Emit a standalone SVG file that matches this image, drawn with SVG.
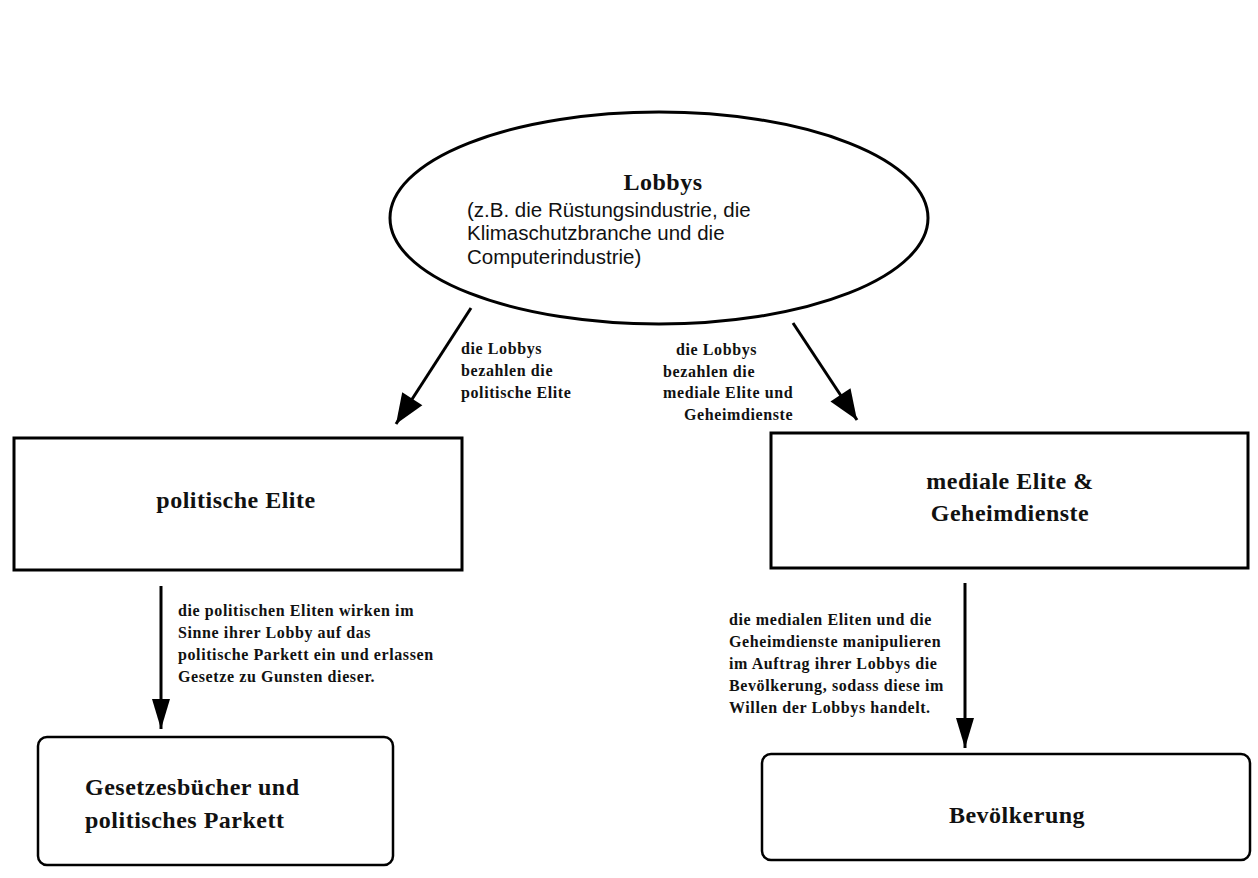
<svg xmlns="http://www.w3.org/2000/svg" width="1258" height="878" viewBox="0 0 1258 878">
<style>
.t{font-family:"Liberation Serif","Times New Roman",serif;font-weight:bold;fill:#111}
.big{font-size:24px;letter-spacing:0.5px}
.sm{font-size:16px;letter-spacing:0.6px}
.sans{font-family:"Liberation Sans",Arial,sans-serif;font-size:20.5px;fill:#111}
.box{fill:#fff;stroke:#000;stroke-width:3}
.rbox{fill:#fff;stroke:#000;stroke-width:2.5}
.con{stroke:#000;stroke-width:3;fill:none;marker-end:url(#ah)}
.dia{marker-end:url(#ahw)}
</style>
<defs>
<marker id="ah" markerUnits="userSpaceOnUse" markerWidth="34" markerHeight="24" viewBox="0 0 34 24" refX="32" refY="12" orient="auto">
<path d="M2,3 L32,12 L2,21 Z" fill="#000"/>
</marker>
<marker id="ahw" markerUnits="userSpaceOnUse" markerWidth="34" markerHeight="30" viewBox="0 0 34 30" refX="32" refY="15" orient="auto">
<path d="M2,3 L32,15 L2,27 Z" fill="#000"/>
</marker>
</defs>
<rect width="1258" height="878" fill="#fff"/>
<g id="connectors">
<line class="con dia" x1="471" y1="308" x2="396" y2="424"/>
<line class="con dia" x1="793" y1="323" x2="857" y2="420"/>
<line class="con" x1="161" y1="586" x2="161" y2="729"/>
<line class="con" x1="965" y1="583" x2="965" y2="748"/>
</g>
<g id="lobbys">
<ellipse cx="659" cy="218" rx="269" ry="106" fill="#fff" stroke="#000" stroke-width="3"/>
<text class="t big" x="663" y="190" text-anchor="middle">Lobbys</text>
<text class="sans" x="467" y="217">(z.B. die Rüstungsindustrie, die</text>
<text class="sans" x="467" y="240">Klimaschutzbranche und die</text>
<text class="sans" x="467" y="264">Computerindustrie)</text>
</g>
<g id="label1">
<text class="t sm" x="461" y="354">die Lobbys</text>
<text class="t sm" x="461" y="376">bezahlen die</text>
<text class="t sm" x="461" y="398">politische Elite</text>
</g>
<g id="label2">
<text class="t sm" x="676" y="355">die Lobbys</text>
<text class="t sm" x="663" y="377">bezahlen die</text>
<text class="t sm" x="663" y="398">mediale Elite und</text>
<text class="t sm" x="684" y="420">Geheimdienste</text>
</g>
<g id="politische-elite">
<rect class="box" x="14" y="438" width="448" height="132"/>
<text class="t big" x="236" y="508" text-anchor="middle">politische Elite</text>
</g>
<g id="mediale-elite">
<rect class="box" x="771" y="433" width="477" height="135"/>
<text class="t big" x="1010" y="489" text-anchor="middle">mediale Elite &amp;</text>
<text class="t big" x="1010" y="521" text-anchor="middle">Geheimdienste</text>
</g>
<g id="label3">
<text class="t sm" x="178" y="616">die politischen Eliten wirken im</text>
<text class="t sm" x="178" y="638">Sinne ihrer Lobby auf das</text>
<text class="t sm" x="178" y="660">politische Parkett ein und erlassen</text>
<text class="t sm" x="178" y="682">Gesetze zu Gunsten dieser.</text>
</g>
<g id="label4">
<text class="t sm" x="729" y="625">die medialen Eliten und die</text>
<text class="t sm" x="729" y="647">Geheimdienste manipulieren</text>
<text class="t sm" x="729" y="669">im Auftrag ihrer Lobbys die</text>
<text class="t sm" x="729" y="691">Bevölkerung, sodass diese im</text>
<text class="t sm" x="729" y="713">Willen der Lobbys handelt.</text>
</g>
<g id="gesetzesbuecher">
<rect class="rbox" x="38" y="737" width="355" height="128" rx="9"/>
<text class="t big" x="85" y="795">Gesetzesbücher und</text>
<text class="t big" x="85" y="828">politisches Parkett</text>
</g>
<g id="bevoelkerung">
<rect class="rbox" x="762" y="754" width="488" height="106" rx="9"/>
<text class="t big" x="1017" y="823" text-anchor="middle">Bevölkerung</text>
</g>
</svg>
